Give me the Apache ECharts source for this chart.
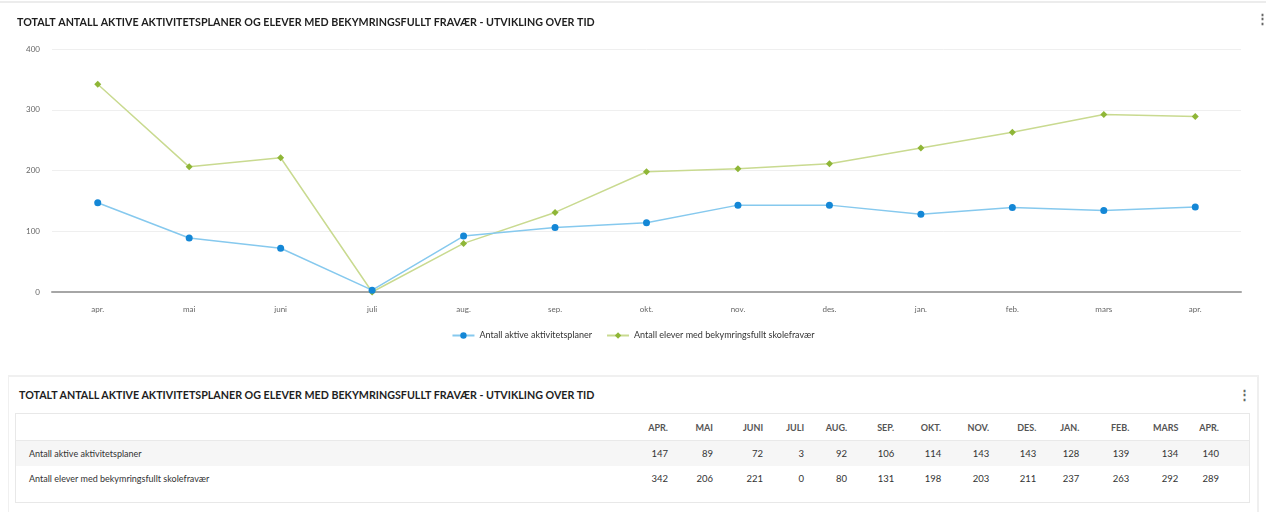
<!DOCTYPE html>
<html>
<head>
<meta charset="utf-8">
<script src="https://cdn.jsdelivr.net/npm/echarts@6/dist/echarts.min.js"></script>
<style>
  html, body { margin: 0; padding: 0; background: #fff; width: 1266px; height: 512px; overflow: hidden; font-family: Lato, "Open Sans", sans-serif; }
  #topline { position: absolute; left: 0; top: 1px; width: 1266px; height: 2px; background: #ececec; }
  #chart { position: absolute; left: 0; top: 0; width: 1266px; height: 362px; }
  #panel { position: absolute; left: 8px; top: 375px; width: 1251px; height: 140px; border-top: 2px solid #f0f0f0; border-left: 1px solid #f0f0f0; border-right: 2px solid #efefef; box-sizing: border-box; }
  #ptitle { position: absolute; left: 10px; top: 11px; font-size: 10.7px; font-weight: bold; color: #1e1e1e; }
  #pmenu { position: absolute; left: 1229px; top: 9px; font-size: 13px; color: #666; font-weight: bold; }
  #tbl { position: absolute; left: 6px; top: 36px; width: 1235px; border: 1px solid #e8e8e8; border-collapse: collapse; table-layout: fixed; font-size: 9.5px; color: #333; }
  #tbl td, #tbl th { padding: 0 8px 0 0; text-align: right; white-space: nowrap; overflow: hidden; }
  #tbl th { height: 26px; font-weight: bold; color: #555; font-size: 9px; }
  #tbl td { height: 25px; }
  #tbl td.lbl, #tbl th.lbl { text-align: left; padding-left: 13px; font-size: 9px; }
  #tbl tr.r1 td { background: #f6f6f6; border-top: 1px solid #e9e9e9; }
  #tbl tr.pad td { height: 11px; }
  #tbl .last { padding-right: 30px; }
</style>
</head>
<body>
<div id="topline"></div>
<div id="chart"></div>
<div id="panel">
  <div id="ptitle"></div>
  <div id="pmenu">&#8942;</div>
  <table id="tbl"></table>
</div>
<script>
// Months shown on the x axis and in the table header
const months = ['apr.', 'mai', 'juni', 'juli', 'aug.', 'sep.', 'okt.', 'nov.', 'des.', 'jan.', 'feb.', 'mars', 'apr.'];
const tableHeaders = ['APR.', 'MAI', 'JUNI', 'JULI', 'AUG.', 'SEP.', 'OKT.', 'NOV.', 'DES.', 'JAN.', 'FEB.', 'MARS', 'APR.'];

// Series values per month
const activePlans = [147, 89, 72, 3, 92, 106, 114, 143, 143, 128, 139, 134, 140];
const worryingAbsence = [342, 206, 221, 0, 80, 131, 198, 203, 211, 237, 263, 292, 289];

const seriesNames = ['Antall aktive aktivitetsplaner', 'Antall elever med bekymringsfullt skolefravær'];
const yTicks = [0, 100, 200, 300, 400];
const titleText = 'TOTALT ANTALL AKTIVE AKTIVITETSPLANER OG ELEVER MED BEKYMRINGSFULLT FRAVÆR - UTVIKLING OVER TID';

const font = 'Lato, "Open Sans", sans-serif';

const chart = echarts.init(document.getElementById('chart'), null, { renderer: 'canvas' });
chart.setOption({
  animation: false,
  textStyle: { fontFamily: font },
  title: {
    text: titleText,
    left: 12, top: 12,
    textStyle: { fontSize: 10.7, fontWeight: 'bold', color: '#1e1e1e', fontFamily: font }
  },
  graphic: [{
    type: 'text', left: 1256, top: 13,
    style: { text: '\u22EE', fontSize: 13, fontWeight: 'bold', fill: '#666' }
  }],
  legend: {
    bottom: 17, left: 'center',
    itemWidth: 22, itemHeight: 8, itemGap: 14,
    textStyle: { fontSize: 9, color: '#333', fontFamily: font },
    data: seriesNames
  },
  grid: { left: 52, right: 25, top: 49, bottom: 70 },
  xAxis: {
    type: 'category',
    data: months,
    boundaryGap: true,
    axisLine: { lineStyle: { color: '#a6a6a6', width: 2 } },
    axisTick: { show: false },
    axisLabel: { fontSize: 8, color: '#666', margin: 13, fontFamily: font }
  },
  yAxis: {
    type: 'value',
    min: yTicks[0], max: yTicks[yTicks.length - 1], interval: 100,
    axisLine: { show: false },
    axisTick: { show: false },
    axisLabel: { fontSize: 8, color: '#666', margin: 12, fontFamily: font },
    splitLine: { lineStyle: { color: '#efefef', width: 1 } }
  },
  series: [
    {
      name: seriesNames[0], type: 'line', data: activePlans,
      symbol: 'circle', symbolSize: 7,
      lineStyle: { color: '#86c9ee', width: 1.5 },
      itemStyle: { color: '#1487d6' },
      z: 3
    },
    {
      name: seriesNames[1], type: 'line', data: worryingAbsence,
      symbol: 'diamond', symbolSize: 7,
      lineStyle: { color: '#c9da90', width: 1.5 },
      itemStyle: { color: '#8fb637' },
      z: 2
    }
  ]
});

// Table below the chart, built from the same arrays
document.getElementById('ptitle').textContent = titleText;
const colWidths = [613, 47, 45, 50, 41, 43, 47, 47, 48, 47, 43, 50, 49, 63];
const tbl = document.getElementById('tbl');
const cg = document.createElement('colgroup');
colWidths.forEach(w => { const c = document.createElement('col'); c.style.width = w + 'px'; cg.appendChild(c); });
tbl.appendChild(cg);

function addRow(cells, isHeader, cls) {
  const tr = document.createElement('tr');
  if (cls) tr.className = cls;
  cells.forEach((v, i) => {
    const cell = document.createElement(isHeader ? 'th' : 'td');
    cell.textContent = v;
    if (i === 0) cell.className = 'lbl';
    if (i === cells.length - 1) cell.classList.add('last');
    tr.appendChild(cell);
  });
  tbl.appendChild(tr);
}
addRow([''].concat(tableHeaders), true);
addRow([seriesNames[0]].concat(activePlans), false, 'r1');
addRow([seriesNames[1]].concat(worryingAbsence), false);
addRow(new Array(14).fill(''), false, 'pad');
</script>
</body>
</html>
